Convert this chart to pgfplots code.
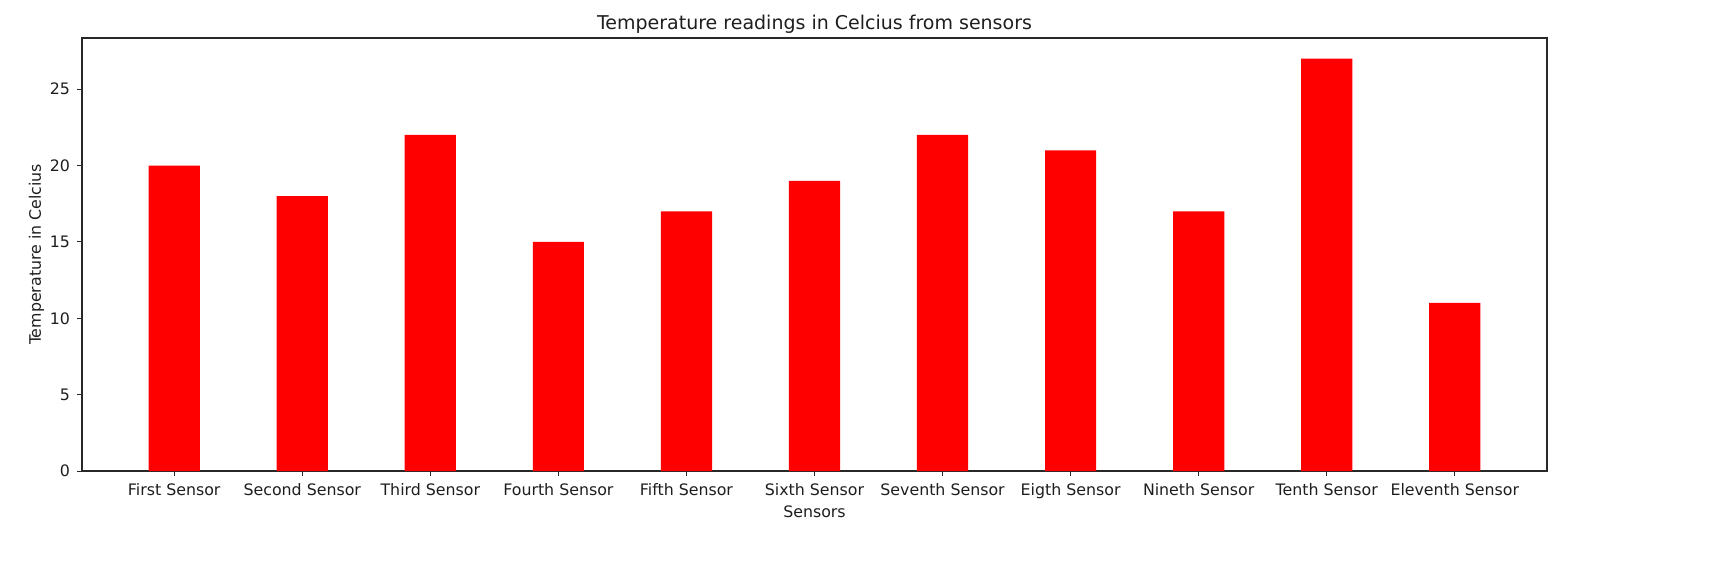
\documentclass[border=0pt]{standalone}
\usepackage{pgfplots}
\pgfplotsset{compat=1.18}
\usepackage{fontspec}
\setmainfont{DejaVu Sans}
\definecolor{axisgray}{RGB}{40,40,40}
\definecolor{txt}{RGB}{30,30,30}
\begin{document}
\begin{tikzpicture}
\useasboundingbox (-41pt,-54.5pt) rectangle (824.5pt,235.5pt);
\begin{axis}[
    scale only axis,
    width=732.5pt, height=216.5pt,
    xmin=-0.72, xmax=10.72,
    ymin=0, ymax=28.35,
    xtick=data,
    xticklabels={First Sensor,Second Sensor,Third Sensor,Fourth Sensor,Fifth Sensor,Sixth Sensor,Seventh Sensor,Eigth Sensor,Nineth Sensor,Tenth Sensor,Eleventh Sensor},
    ytick={0,5,10,15,20,25},
    xtick pos=bottom, ytick pos=left,
    tick align=outside,
    major tick length=2.5pt,
    tick style={axisgray, line width=0.5pt},
    axis line style={axisgray, line width=0.6pt},
    /pgf/number format/assume math mode=true,
    tick label style={font=\fontsize{7.9}{9.5}\selectfont, text=txt},
    label style={font=\fontsize{7.9}{9.5}\selectfont, text=txt},
    xlabel={Sensors},
    ylabel={Temperature in Celcius},
    xlabel style={yshift=3pt},
    ylabel style={yshift=-4pt},
    title={Temperature readings in Celcius from sensors},
    title style={font=\fontsize{9.5}{11.4}\selectfont, text=txt, yshift=-7.5pt},
    axis background/.style={fill=white},
]
\addplot[ybar, bar width=0.4, fill=red, draw=none] coordinates {
(0,20) (1,18) (2,22) (3,15) (4,17) (5,19) (6,22) (7,21) (8,17) (9,27) (10,11)
};
\end{axis}
\end{tikzpicture}
\end{document}
